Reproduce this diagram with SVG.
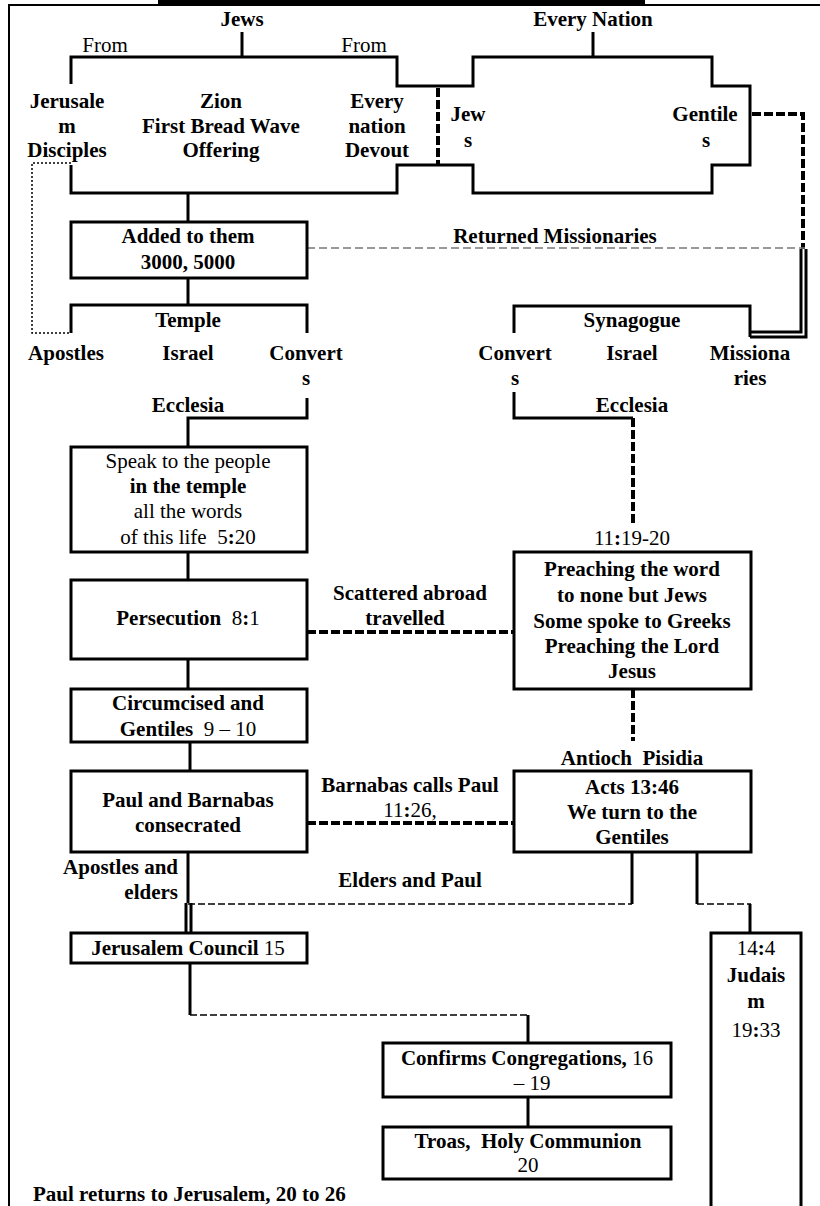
<svg xmlns="http://www.w3.org/2000/svg" width="820" height="1206" viewBox="0 0 820 1206">
<style>
.t{font-family:"Liberation Serif","Times New Roman",serif;font-size:21px;text-anchor:middle;fill:#000}
.b{font-weight:bold}
.box{fill:#fff;stroke:#000;stroke-width:3}
.ln{fill:none;stroke:#000;stroke-width:3}
.thd{fill:none;stroke:#000;stroke-width:4;stroke-dasharray:9 3}
.gd{fill:none;stroke:#777;stroke-width:1.5;stroke-dasharray:8 4}
.dot{fill:none;stroke:#000;stroke-width:1.5;stroke-dasharray:2 2}
.td{fill:none;stroke:#000;stroke-width:1.5;stroke-dasharray:7 3}
.fr{fill:none;stroke:#000;stroke-width:2}
</style>
<rect width="820" height="1206" fill="#fff"/>
<g id="frame">
<path class="fr" d="M9,1206 V5 H820"/>
<path d="M158,2 H645" stroke="#000" stroke-width="5"/>
</g>
<g id="connectors">
<path class="ln" d="M242,32 V57"/>
<path class="ln" d="M593,32 V57"/>
<path class="thd" d="M438,88 V165"/>
<path class="thd" d="M752,114 H803 V249"/>
<path class="ln" stroke-width="2.5" d="M801,249 V332 H750"/>
<path class="ln" stroke-width="2.5" d="M806,249 V337 H750"/>
<path class="gd" d="M307,248 H805"/>
<path class="ln" d="M188,193 V222"/>
<path class="ln" d="M188,278 V305"/>
<path class="ln" d="M71,333 V305 H307 V333"/>
<path class="dot" d="M71,163 H32 V333 H71"/>
<path class="ln" d="M514,333 V306 H750 V337"/>
<path class="ln" d="M307,398 V418 H188 V447"/>
<path class="ln" d="M514,392 V418 H633"/>
<path class="thd" d="M633,418 V524"/>
<path class="ln" d="M188,552 V580"/>
<path class="thd" d="M307,632 H514"/>
<path class="ln" d="M188,659 V689"/>
<path class="ln" d="M190,742 V771"/>
<path class="thd" d="M633,689 V741"/>
<path class="thd" d="M307,823 H514"/>
<path class="ln" d="M188,852 V903"/>
<path class="ln" stroke-width="2" d="M186,903 V933 M191,903 V933"/>
<path class="td" d="M188,904 H632"/>
<path class="ln" d="M632,852 V904"/>
<path class="ln" d="M697,852 V904"/>
<path class="td" d="M697,904 H751"/>
<path class="ln" d="M750,904 V933"/>
<path class="ln" d="M190,963 V1015"/>
<path class="td" stroke-width="2" d="M190,1015 H528"/>
<path class="ln" d="M528,1015 V1043"/>
<path class="ln" d="M528,1097 V1127"/>
</g>
<g id="n-jews"><text class="t b" x="242" y="26">Jews</text></g>
<g id="n-every-nation"><text class="t b" x="593" y="26">Every Nation</text></g>
<g id="n-origin">
<path class="ln" d="M71,84 V57 H397 V86 H473 V57 H712 V86 H750 V165 H712 V193 H473 V165 H397 V193 H71 V165"/>
<text class="t" x="105" y="52">From</text>
<text class="t" x="364" y="52">From</text>
<text class="t b" x="67" y="108">Jerusale</text>
<text class="t b" x="67" y="133">m</text>
<text class="t b" x="67" y="157">Disciples</text>
<text class="t b" x="221" y="108">Zion</text>
<text class="t b" x="221" y="133">First Bread Wave</text>
<text class="t b" x="221" y="157">Offering</text>
<text class="t b" x="377" y="108">Every</text>
<text class="t b" x="377" y="133">nation</text>
<text class="t b" x="377" y="157">Devout</text>
<text class="t b" x="468" y="121">Jew</text>
<text class="t b" x="468" y="147">s</text>
<text class="t b" x="705" y="121">Gentile</text>
<text class="t b" x="706" y="147">s</text>
</g>
<g id="n-added">
<rect class="box" x="71" y="222" width="236" height="56"/>
<text class="t b" x="188" y="243">Added to them</text>
<text class="t b" x="188" y="269">3000, 5000</text>
</g>
<g id="n-returned"><text class="t b" x="555" y="243">Returned Missionaries</text></g>
<g id="n-temple">
<text class="t b" x="188" y="327">Temple</text>
<text class="t b" x="66" y="360">Apostles</text>
<text class="t b" x="188" y="360">Israel</text>
<text class="t b" x="306" y="360">Convert</text>
<text class="t b" x="306" y="385">s</text>
<text class="t b" x="188" y="412">Ecclesia</text>
</g>
<g id="n-synagogue">
<text class="t b" x="632" y="327">Synagogue</text>
<text class="t b" x="515" y="360">Convert</text>
<text class="t b" x="515" y="385">s</text>
<text class="t b" x="632" y="360">Israel</text>
<text class="t b" x="750" y="360">Missiona</text>
<text class="t b" x="750" y="385">ries</text>
<text class="t b" x="632" y="412">Ecclesia</text>
</g>
<g id="n-speak">
<rect class="box" x="71" y="447" width="236" height="105"/>
<text class="t" x="188" y="468">Speak to the people</text>
<text class="t b" x="188" y="493">in the temple</text>
<text class="t" x="188" y="518">all the words</text>
<text class="t" x="188" y="544">of this life&#160; 5<tspan class="b">:</tspan>20</text>
</g>
<g id="n-persecution">
<rect class="box" x="71" y="580" width="236" height="79"/>
<text class="t" x="188" y="625"><tspan class="b">Persecution</tspan>&#160; 8<tspan class="b">:</tspan>1</text>
</g>
<g id="n-scattered">
<text class="t b" x="410" y="600">Scattered abroad</text>
<text class="t b" x="405" y="625">travelled</text>
</g>
<g id="n-1119"><text class="t" x="632" y="545">11<tspan class="b">:</tspan>19-20</text></g>
<g id="n-preaching">
<rect class="box" x="514" y="552" width="237" height="137"/>
<text class="t b" x="632" y="576">Preaching the word</text>
<text class="t b" x="632" y="602">to none but Jews</text>
<text class="t b" x="632" y="628">Some spoke to Greeks</text>
<text class="t b" x="632" y="653">Preaching the Lord</text>
<text class="t b" x="632" y="678">Jesus</text>
</g>
<g id="n-circumcised">
<rect class="box" x="71" y="689" width="236" height="53"/>
<text class="t b" x="188" y="710">Circumcised and</text>
<text class="t" x="188" y="736"><tspan class="b">Gentiles</tspan>&#160; 9 – 10</text>
</g>
<g id="n-paul-barnabas">
<rect class="box" x="71" y="771" width="236" height="81"/>
<text class="t b" x="188" y="807">Paul and Barnabas</text>
<text class="t b" x="188" y="832">consecrated</text>
</g>
<g id="n-barnabas-calls">
<text class="t b" x="410" y="792">Barnabas calls Paul</text>
<text class="t" x="410" y="817">11<tspan class="b">:</tspan>26,</text>
</g>
<g id="n-antioch"><text class="t b" x="632" y="765">Antioch&#160; Pisidia</text></g>
<g id="n-acts">
<rect class="box" x="514" y="771" width="237" height="81"/>
<text class="t b" x="632" y="794">Acts 13:46</text>
<text class="t b" x="632" y="819">We turn to the</text>
<text class="t b" x="632" y="844">Gentiles</text>
</g>
<g id="n-apostles-elders">
<text class="t b" x="178" y="874" text-anchor="end" style="text-anchor:end">Apostles and</text>
<text class="t b" x="178" y="899" style="text-anchor:end">elders</text>
</g>
<g id="n-elders-paul"><text class="t b" x="410" y="887">Elders and Paul</text></g>
<g id="n-council">
<rect class="box" x="71" y="933" width="236" height="30"/>
<text class="t" x="188" y="955"><tspan class="b">Jerusalem Council</tspan> 15</text>
</g>
<g id="n-judaism">
<path class="ln" d="M711,1206 V933 H801 V1206"/>
<text class="t" x="756" y="955">14<tspan class="b">:</tspan>4</text>
<text class="t b" x="756" y="982">Judais</text>
<text class="t b" x="756" y="1008">m</text>
<text class="t" x="756" y="1037">19<tspan class="b">:</tspan>33</text>
</g>
<g id="n-confirms">
<rect class="box" x="383" y="1043" width="288" height="54"/>
<text class="t" x="527" y="1065"><tspan class="b">Confirms Congregations,</tspan> 16</text>
<text class="t" x="532" y="1090">– 19</text>
</g>
<g id="n-troas">
<rect class="box" x="383" y="1127" width="288" height="52"/>
<text class="t b" x="528" y="1148">Troas,&#160; Holy Communion</text>
<text class="t" x="528" y="1172">20</text>
</g>
<g id="n-paul-returns">
<text class="t b" x="33" y="1201" style="text-anchor:start">Paul returns to Jerusalem, 20 to 26</text>
</g>
</svg>
